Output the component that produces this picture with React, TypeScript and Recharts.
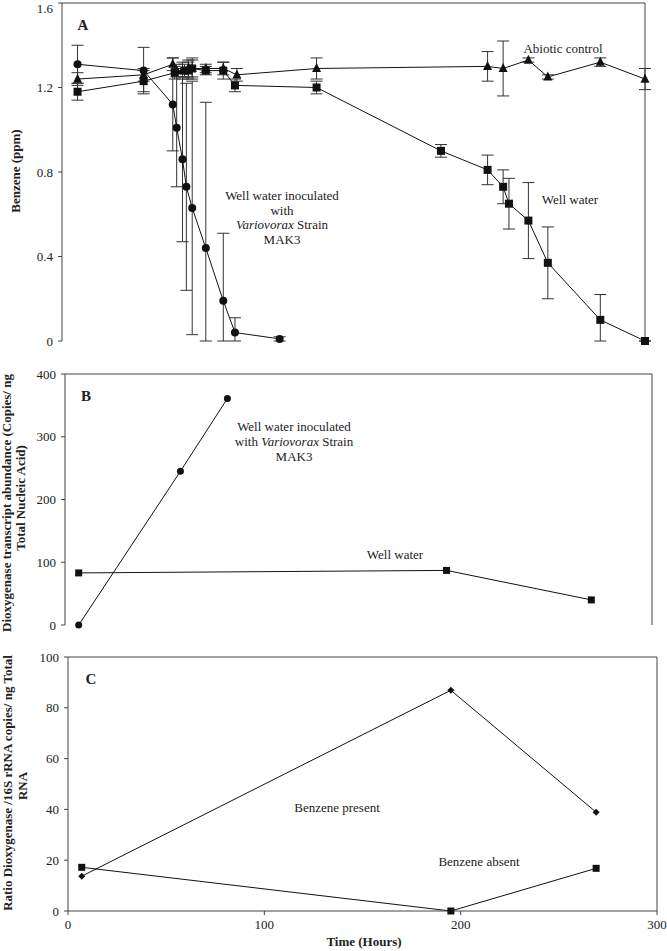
import { LineChart, Line, XAxis, YAxis, ErrorBar, ReferenceLine } from "recharts";

// Panel A: benzene (ppm) over time (hours)
const hoursInoculated = [8, 42, 57, 59, 62, 64, 67, 74, 83, 89, 112];
const benzeneInoculated = [1.31, 1.28, 1.12, 1.01, 0.86, 0.73, 0.63, 0.44, 0.19, 0.04, 0.01];
const errInoculated = [0.09, 0.11, 0.22, 0.28, 0.39, 0.49, 0.6, 0.69, 0.32, 0.07, 0.01];

const hoursAbiotic = [8, 42, 57, 59, 62, 65, 67, 74, 83, 90, 131, 219, 227, 240, 250, 277, 300];
const benzeneAbiotic = [1.24, 1.26, 1.31, 1.28, 1.28, 1.29, 1.29, 1.29, 1.29, 1.26, 1.29, 1.3, 1.29, 1.33, 1.25, 1.32, 1.24];
const errAbiotic = [0.03, 0.03, 0.03, 0.03, 0.04, 0.04, 0.04, 0.02, 0.03, 0.03, 0.05, 0.07, 0.13, 0.01, 0.01, 0.02, 0.05];

const hoursWell = [8, 42, 58, 63, 65, 67, 74, 83, 89, 131, 195, 219, 227, 230, 240, 250, 277, 300];
const benzeneWell = [1.18, 1.23, 1.27, 1.28, 1.28, 1.29, 1.28, 1.28, 1.21, 1.2, 0.9, 0.81, 0.73, 0.65, 0.57, 0.37, 0.1, 0];
const errWell = [0.04, 0.05, 0.03, 0.03, 0.04, 0.05, 0.02, 0.04, 0.03, 0.03, 0.03, 0.07, 0.08, 0.12, 0.18, 0.17, 0.12, 0];

// Panel B: dioxygenase transcript abundance
const hoursTranscriptInoc = [7, 59, 83];
const transcriptInoc = [0, 245, 361];
const hoursSampled = [7, 195, 269];
const transcriptWell = [83, 87, 40];

// Panel C: ratio dioxygenase / 16S rRNA
const ratioPresent = [13.7, 86.9, 38.9];
const ratioAbsent = [17.2, 0, 16.8];

const ticksA = [0, 0.4, 0.8, 1.2, 1.6];
const ticksB = [0, 100, 200, 300, 400];
const ticksC = [0, 20, 40, 60, 80, 100];
const ticksTime = [0, 100, 200, 300];

// error bars are cut off at the x axis, as in the printed figure
const zip = (t: number[], v: number[], e?: number[]) =>
  t.map((h, i) => ({ t: h, v: v[i], err: e ? [Math.min(e[i], v[i]), e[i]] : [0, 0] }));

const FONT = "'Liberation Serif', 'Times New Roman', serif";
const AXIS = "#444";
const INK = "#111";
const tickStyle = { fontSize: 13, fill: "#222", fontFamily: FONT };

const circle = (r: number) => (p: any) =>
  <circle key={`c${p.index}`} cx={p.cx} cy={p.cy} r={r} fill={INK} />;
const square = (s: number) => (p: any) =>
  <rect key={`s${p.index}`} x={p.cx - s / 2} y={p.cy - s / 2} width={s} height={s} fill={INK} />;
const triangle = (s: number) => (p: any) =>
  <polygon key={`t${p.index}`} points={`${p.cx},${p.cy - s * 0.6} ${p.cx - s / 2},${p.cy + s * 0.4} ${p.cx + s / 2},${p.cy + s * 0.4}`} fill={INK} />;
const diamond = (s: number) => (p: any) =>
  <polygon key={`d${p.index}`} points={`${p.cx},${p.cy - s} ${p.cx + s},${p.cy} ${p.cx},${p.cy + s} ${p.cx - s},${p.cy}`} fill={INK} />;

const Txt = ({ x, y, children, bold, size = 13 }: any) => (
  <div
    style={{
      position: "absolute", left: x, top: y, transform: "translate(-50%, -50%)",
      fontSize: size, lineHeight: "14.5px", textAlign: "center", whiteSpace: "nowrap",
      fontWeight: bold ? 700 : 400, color: "#222",
    }}
  >
    {children}
  </div>
);

const VTxt = ({ x, y, children }: any) => (
  <div
    style={{
      position: "absolute", left: x, top: y, transform: "translate(-50%, -50%) rotate(-90deg)",
      fontSize: 13, fontWeight: 700, whiteSpace: "nowrap", color: "#222",
    }}
  >
    {children}
  </div>
);

const App = () => {
  const lineProps = { type: "linear" as const, stroke: INK, strokeWidth: 1, isAnimationActive: false };
  const errProps = { dataKey: "err", direction: "y" as const, width: 6, stroke: "#333", strokeWidth: 1 };

  return (
    <div style={{ position: "absolute", left: 0, top: 0, width: 667, height: 951, fontFamily: FONT, background: "#fff" }}>
      {/* Panel A */}
      <div style={{ position: "absolute", left: 0, top: 0 }}>
        <LineChart width={667} height={360} margin={{ top: 3, right: 22, bottom: 19, left: 0 }}>
          <XAxis type="number" dataKey="t" domain={[0, 300]} ticks={ticksTime} tick={false} tickLine={false} height={0} stroke={AXIS} />
          <YAxis type="number" domain={[0, 1.6]} ticks={ticksA} width={62} tickSize={4} tickMargin={5} tick={tickStyle} stroke={AXIS} />
          <ReferenceLine y={1.6} stroke={AXIS} />
          <ReferenceLine x={300} stroke={AXIS} />
          <Line {...lineProps} data={zip(hoursInoculated, benzeneInoculated, errInoculated)} dataKey="v" dot={circle(4)}>
            <ErrorBar {...errProps} />
          </Line>
          <Line {...lineProps} data={zip(hoursAbiotic, benzeneAbiotic, errAbiotic)} dataKey="v" dot={triangle(9)}>
            <ErrorBar {...errProps} />
          </Line>
          <Line {...lineProps} data={zip(hoursWell, benzeneWell, errWell)} dataKey="v" dot={square(8)}>
            <ErrorBar {...errProps} />
          </Line>
        </LineChart>
      </div>

      {/* Panel B */}
      <div style={{ position: "absolute", left: 0, top: 360 }}>
        <LineChart width={667} height={280} margin={{ top: 14, right: 15, bottom: 15, left: 0 }}>
          <XAxis type="number" dataKey="t" domain={[0, 300]} ticks={ticksTime} tick={false} tickLine={false} height={0} stroke={AXIS} />
          <YAxis type="number" domain={[0, 400]} ticks={ticksB} width={65} tickSize={4} tickMargin={5} tick={tickStyle} stroke={AXIS} />
          <ReferenceLine y={400} stroke={AXIS} />
          <ReferenceLine x={300} stroke={AXIS} />
          <Line {...lineProps} data={zip(hoursTranscriptInoc, transcriptInoc)} dataKey="v" dot={circle(3.5)} />
          <Line {...lineProps} data={zip(hoursSampled, transcriptWell)} dataKey="v" dot={square(7)} />
        </LineChart>
      </div>

      {/* Panel C */}
      <div style={{ position: "absolute", left: 0, top: 640 }}>
        <LineChart width={667} height={311} margin={{ top: 17, right: 10, bottom: 0, left: 0 }}>
          <XAxis type="number" dataKey="t" domain={[0, 300]} ticks={ticksTime} height={40} tickSize={4} tickMargin={5} tick={tickStyle} stroke={AXIS} />
          <YAxis type="number" domain={[0, 100]} ticks={ticksC} width={68} tickSize={4} tickMargin={5} tick={tickStyle} stroke={AXIS} />
          <ReferenceLine y={100} stroke={AXIS} />
          <ReferenceLine x={300} stroke={AXIS} />
          <Line {...lineProps} data={zip(hoursSampled, ratioPresent)} dataKey="v" dot={diamond(3.5)} />
          <Line {...lineProps} data={zip(hoursSampled, ratioAbsent)} dataKey="v" dot={square(7)} />
        </LineChart>
      </div>

      {/* Panel labels and annotations */}
      <Txt x={83} y={25} bold size={15}>A</Txt>
      <Txt x={563} y={49}>Abiotic control</Txt>
      <div style={{ position: "absolute", left: 282, top: 189, transform: "translateX(-50%)", fontSize: 13, lineHeight: "14.5px", textAlign: "center", whiteSpace: "nowrap", color: "#222" }}>
        Well water inoculated<br />with<br /><i>Variovorax</i> Strain<br />MAK3
      </div>
      <Txt x={570} y={200}>Well water</Txt>

      <Txt x={86} y={396} bold size={15}>B</Txt>
      <div style={{ position: "absolute", left: 294, top: 419, transform: "translateX(-50%)", fontSize: 13, lineHeight: "15px", textAlign: "center", whiteSpace: "nowrap", color: "#222" }}>
        Well water inoculated<br />with <i>Variovorax</i> Strain<br />MAK3
      </div>
      <Txt x={395} y={555}>Well water</Txt>

      <Txt x={91} y={679} bold size={15}>C</Txt>
      <Txt x={337} y={808}>Benzene present</Txt>
      <Txt x={479} y={862}>Benzene absent</Txt>

      <VTxt x={16} y={171}>Benzene (ppm)</VTxt>
      <VTxt x={7} y={503}>Dioxygenase transcript abundance (Copies/ ng</VTxt>
      <VTxt x={21} y={498}>Total Nucleic Acid)</VTxt>
      <VTxt x={8} y={783}>Ratio Dioxygenase /16S rRNA copies/ ng Total</VTxt>
      <VTxt x={23} y={786}>RNA</VTxt>
      <Txt x={364} y={942} bold>Time (Hours)</Txt>
    </div>
  );
};

export default App;
